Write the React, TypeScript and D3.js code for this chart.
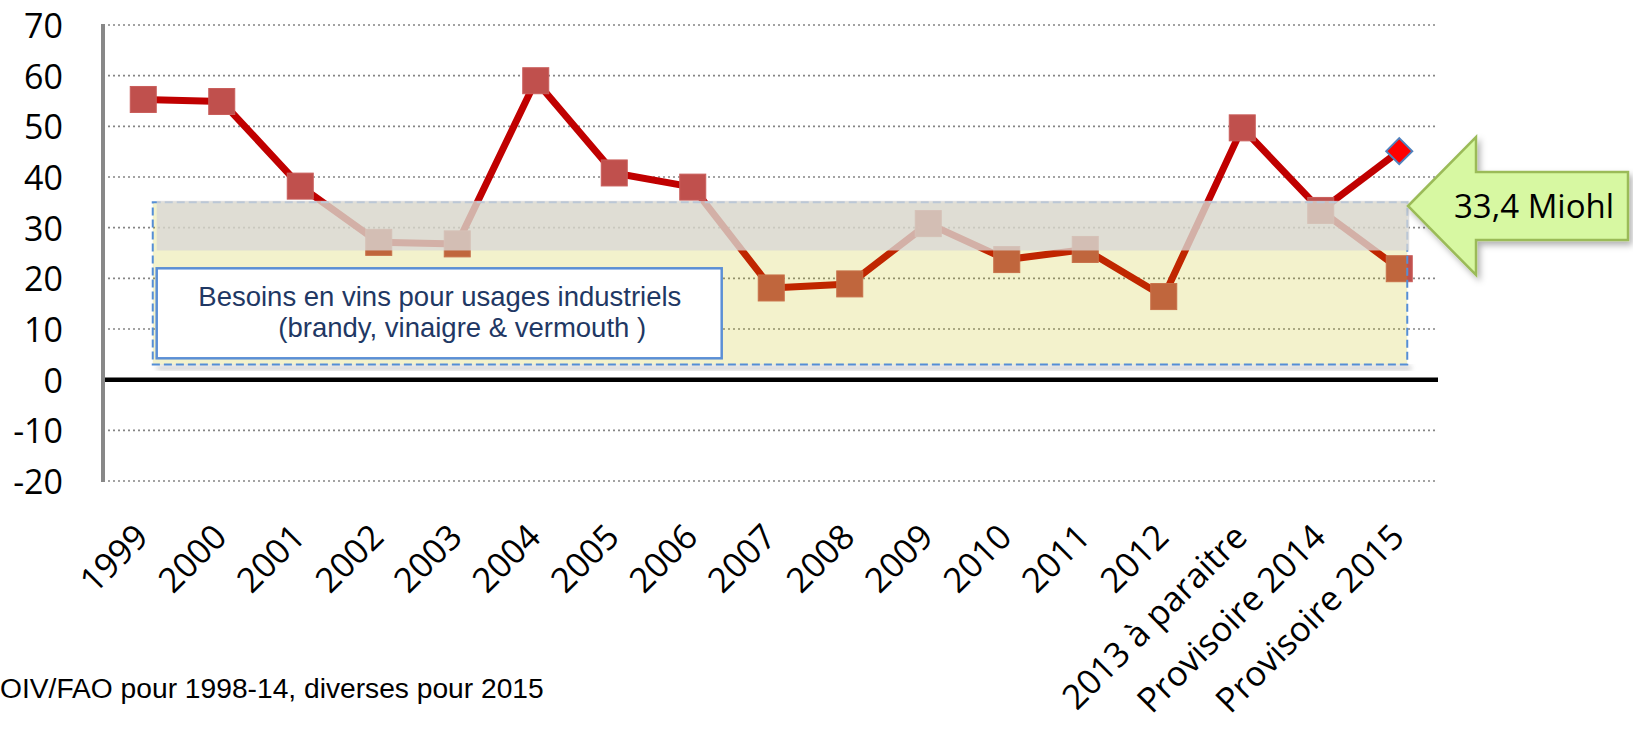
import React from 'react';
import * as d3 from 'd3';

// ---- data ----
const categories = [
  '1999', '2000', '2001', '2002', '2003', '2004', '2005', '2006', '2007', '2008',
  '2009', '2010', '2011', '2012', '2013 à paraitre', 'Provisoire 2014', 'Provisoire 2015',
];
const surplusValues = [55.3, 54.9, 38.2, 27.1, 26.8, 59.0, 40.8, 38.0, 18.1, 18.9, 30.8, 23.7, 25.7, 16.4, 49.7, 33.4, 21.9];
const altCategories = ['Provisoire 2014', 'Provisoire 2015'];
const altValues = [33.4, 45.1];
const yTicks = [-20, -10, 0, 10, 20, 30, 40, 50, 60, 70];
const zoneValues = { top: 35, greyBottom: 25.5, bottom: 3 };
const boxLines = ['Besoins en vins pour usages industriels', '(brandy, vinaigre & vermouth )'];
const calloutLabel = '33,4 Miohl';
const sourceNote = 'OIV/FAO pour 1998-14, diverses pour 2015';

const W = 1633;
const H = 729;

export default function App() {
  const x = d3.scaleBand<string>().domain(categories).range([104, 1438.5]).padding(0);
  const cx = (c: string) => (x(c) as number) + x.bandwidth() / 2;
  const y = d3.scaleLinear().domain([-20, 70]).range([481, 25]);

  const line = d3
    .line<number>()
    .x((_, i) => cx(categories[i]))
    .y((d) => y(d));
  const altLine = d3
    .line<number>()
    .x((_, i) => cx(altCategories[i]))
    .y((d) => y(d));

  const sq = 26;
  const zoneLeft = cx(categories[0]) + 9.5;
  const zoneRight = cx(categories[categories.length - 1]) + 8;

  const lastAlt = altValues[altValues.length - 1];
  const dX = cx(altCategories[altCategories.length - 1]);
  const dY = y(lastAlt);
  const dr = 13;

  // callout arrow
  const tipX = 1408, tipY = 206;
  const headX = 1476, headTop = 137, headBot = 275, shaftTop = 172, shaftBot = 240, shaftRight = 1628;
  const arrowPath = `M${tipX},${tipY} L${headX},${headTop} L${headX},${shaftTop} L${shaftRight},${shaftTop} L${shaftRight},${shaftBot} L${headX},${shaftBot} L${headX},${headBot} Z`;

  return (
    <svg width={W} height={H} style={{ position: 'absolute', left: 0, top: 0, background: '#fff' }}>
      <defs>
        <filter id="arrowShadow" x="-10%" y="-10%" width="130%" height="140%">
          <feDropShadow dx="3" dy="4" stdDeviation="3" floodColor="#000" floodOpacity="0.3" />
        </filter>
        <filter id="blur3">
          <feGaussianBlur stdDeviation="2.5" />
        </filter>
      </defs>

      {/* gridlines */}
      {yTicks.filter((t) => t !== 0).map((t) => (
        <line key={t} x1={108} x2={1438} y1={y(t)} y2={y(t)} stroke="#858585" strokeWidth={1.6} strokeDasharray="2 3" />
      ))}
      {/* y axis */}
      <line x1={103} x2={103} y1={y(70) - 1} y2={y(-20) + 1} stroke="#888" strokeWidth={4} />
      {/* zero line */}
      <line x1={105} x2={1438} y1={y(0)} y2={y(0)} stroke="#000" strokeWidth={4.5} />

      {/* y tick labels */}
      {yTicks.map((t) => (
        <text key={t} x={63} y={y(t)} textAnchor="end" dominantBaseline="central" fontFamily="'Open Sans'" fontSize={34} fill="#000">
          {t}
        </text>
      ))}

      {/* x labels */}
      {categories.map((c) => {
        const ax = cx(c) + 7;
        const ay = 539;
        return (
          <text key={c} x={ax} y={ay} textAnchor="end" transform={`rotate(-45 ${ax} ${ay})`} fontFamily="'Open Sans'" fontSize={34.5} fill="#000">
            {c}
          </text>
        );
      })}

      {/* series lines */}
      <path d={altLine(altValues) || ''} fill="none" stroke="#C00000" strokeWidth={7} strokeLinejoin="round" />
      <path d={line(surplusValues) || ''} fill="none" stroke="#C00000" strokeWidth={7} strokeLinejoin="round" />
      {surplusValues.map((v, i) => (
        <rect key={i} x={cx(categories[i]) - sq / 2} y={y(v) - sq / 2} width={sq} height={sq} fill="#C0504D" stroke="#C95E5B" strokeWidth={1} />
      ))}
      <path d={`M${dX},${dY - dr} L${dX + dr},${dY} L${dX},${dY + dr} L${dX - dr},${dY} Z`} fill="#FF0000" stroke="#4F81BD" strokeWidth={2} />

      {/* shadow of overlay zone */}
      <rect x={zoneLeft + 4} y={y(zoneValues.bottom) + 1} width={zoneRight - zoneLeft} height={5} fill="#999" opacity={0.45} filter="url(#blur3)" />
      {/* overlay zone */}
      <rect x={zoneLeft} y={y(zoneValues.top)} width={zoneRight - zoneLeft} height={y(zoneValues.bottom) - y(zoneValues.top)} fill="rgb(196,190,0)" fillOpacity={0.2} />
      <rect x={zoneLeft} y={y(zoneValues.top)} width={zoneRight - zoneLeft} height={y(zoneValues.bottom) - y(zoneValues.top)} fill="none" stroke="#558ED5" strokeWidth={2} strokeDasharray="8 4" />
      <rect x={zoneLeft + 4} y={y(zoneValues.top) - 1.5} width={zoneRight - zoneLeft - 2} height={y(zoneValues.greyBottom) - y(zoneValues.top) + 1.5} fill="rgb(216,215,214)" fillOpacity={0.78} />

      {/* text box */}
      <rect x={156.7} y={268.3} width={565} height={90} fill="#fff" stroke="#5B8FD5" strokeWidth={2.5} />
      <text x={198.3} y={305.7} fontFamily="'Liberation Sans', Arial" fontSize={27.5} fill="#1F3864">{boxLines[0]}</text>
      <text x={278.3} y={336.7} fontFamily="'Liberation Sans', Arial" fontSize={27.5} fill="#1F3864">{boxLines[1]}</text>

      {/* callout */}
      <path d={arrowPath} fill="#D7F8A2" stroke="#9BBB59" strokeWidth={2.5} strokeLinejoin="miter" filter="url(#arrowShadow)" />
      <text x={1534} y={218.3} textAnchor="middle" fontFamily="'Open Sans'" fontSize={33} fill="#000">{calloutLabel}</text>

      {/* source */}
      <text x={0} y={698} fontFamily="'Liberation Sans', Arial" fontSize={28.2} fill="#000">{sourceNote}</text>
    </svg>
  );
}
